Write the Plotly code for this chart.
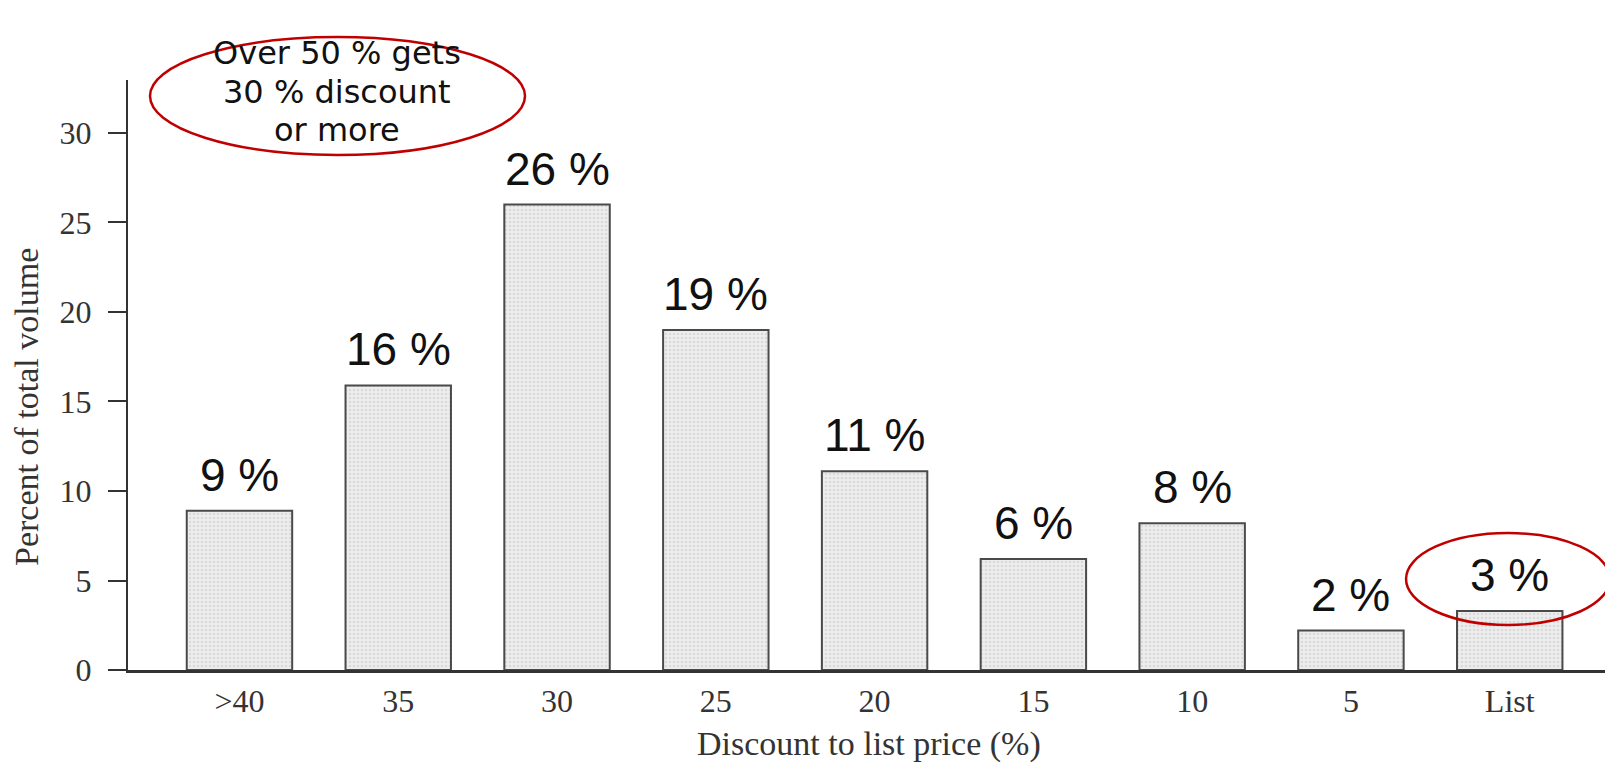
import plotly.graph_objects as go

# ---- data ----
categories = [">40", "35", "30", "25", "20", "15", "10", "5", "List"]
volume_pct = [8.9, 15.9, 26.0, 19.0, 11.1, 6.2, 8.2, 2.2, 3.3]
value_labels = ["9 %", "16 %", "26 %", "19 %", "11 %", "6 %", "8 %", "2 %", "3 %"]
y_ticks = [0, 5, 10, 15, 20, 25, 30]
x_title = "Discount to list price (%)"
y_title = "Percent of total volume"
callout_lines = ["Over 50 % gets", "30 % discount", "or more"]

SERIF = "Liberation Serif, Times New Roman, serif"
SANS = "Liberation Sans, Arial, sans-serif"
INK = "#333333"

positions = list(range(len(categories)))

fig = go.Figure()
fig.add_trace(go.Bar(
    x=positions,
    y=volume_pct,
    width=0.664,
    marker=dict(
        color="#ececec",
        line=dict(color="#4a4a4a", width=2),
        pattern=dict(shape=".", size=4, solidity=0.3,
                     fgcolor="#c4c4c4", bgcolor="#ededed"),
    ),
    hovertext=categories,
    hoverinfo="text+y",
    showlegend=False,
))

annotations = []
for p, v, t in zip(positions, volume_pct, value_labels):
    annotations.append(dict(
        x=p, y=v, xref="x", yref="y", text=t, showarrow=False,
        yanchor="bottom", xanchor="center", yshift=8,
        font=dict(family=SANS, size=46, color="#111111"),
    ))

# callout text, one annotation per line
for txt, yp in zip(callout_lines, [1.0458, 0.9797, 0.9147]):
    annotations.append(dict(
        x=0.1415, y=yp, xref="paper", yref="paper", text=txt,
        showarrow=False, xanchor="center", yanchor="middle",
        font=dict(family="DejaVu Sans, Verdana, sans-serif", size=32, color="#111111"),
    ))
# axis titles
annotations.append(dict(
    x=-0.0684, y=0.4458, xref="paper", yref="paper", text=y_title,
    showarrow=False, xanchor="center", yanchor="middle", textangle=-90,
    font=dict(family=SERIF, size=34, color=INK),
))
annotations.append(dict(
    x=0.5017, y=-0.1254, xref="paper", yref="paper", text=x_title,
    showarrow=False, xanchor="center", yanchor="middle",
    font=dict(family=SERIF, size=34, color=INK),
))

shapes = [
    dict(type="circle", xref="paper", yref="paper",
         x0=0.0149, x1=0.2688, y0=0.8729, y1=1.0729,
         line=dict(color="#c00000", width=2.5), fillcolor="rgba(0,0,0,0)"),
    dict(type="circle", xref="paper", yref="paper",
         x0=0.8653, x1=1.0034, y0=0.0763, y1=0.2322,
         line=dict(color="#c00000", width=2.5), fillcolor="rgba(0,0,0,0)"),
]

fig.update_layout(
    width=1605, height=764,
    margin=dict(l=128, r=0, t=80, b=94, pad=0),
    paper_bgcolor="white", plot_bgcolor="white",
    annotations=annotations,
    shapes=shapes,
    xaxis=dict(
        range=[-0.702, 8.6],
        tickmode="array", tickvals=positions, ticktext=categories,
        showline=True, linecolor=INK, linewidth=2.5,
        ticks="", showgrid=False, zeroline=False,
        tickfont=dict(family=SERIF, size=32, color=INK),
        ticklabelstandoff=1,
    ),
    yaxis=dict(
        range=[0, 32.96], tickvals=y_ticks,
        showline=True, linecolor=INK, linewidth=2,
        ticks="outside", ticklen=18, tickwidth=2, tickcolor=INK,
        showgrid=False, zeroline=False,
        tickfont=dict(family=SERIF, size=32, color=INK),
        ticklabelstandoff=10,
    ),
)

fig.write_html("out.html")
